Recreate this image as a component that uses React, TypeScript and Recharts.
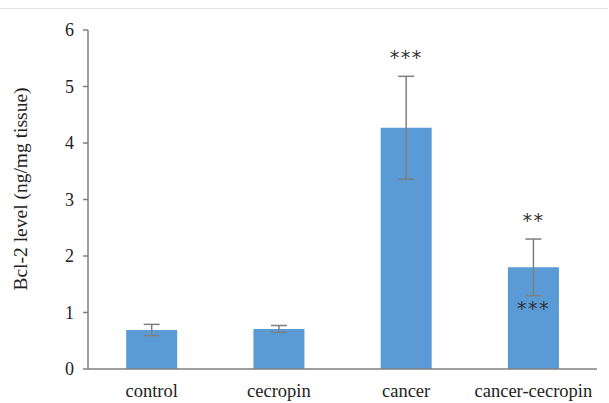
import { Bar, BarChart, ErrorBar, LabelList, XAxis, YAxis } from "recharts";

const groups = ["control", "cecropin", "cancer", "cancer-cecropin"];
const levels = [0.69, 0.71, 4.27, 1.8];
const errors = [0.1, 0.06, 0.91, 0.5];
const marksAbove = ["", "", "***", "**"];
const marksInside = ["", "", "", "***"];
const yTicks = [0, 1, 2, 3, 4, 5, 6];

const data = groups.map((g, i) => ({
  group: g,
  level: levels[i],
  err: errors[i],
  above: marksAbove[i],
  inside: marksInside[i],
}));

const axisColor = "#7f7f7f";
const serif = "Liberation Serif";

function Stars(props: any) {
  const { x, y, width, height, index } = props;
  const d = data[index];
  if (!d) return null;
  const perUnit = height / d.level;
  const cx = x + width / 2;
  const starStyle = { fontFamily: "DejaVu Sans", fontSize: 19, letterSpacing: 1.5 };
  return (
    <g>
      {d.above && (
        <text x={cx} y={y - d.err * perUnit - 22 + 10} textAnchor="middle" fill="#333" style={starStyle}>
          {d.above}
        </text>
      )}
      {d.inside && (
        <text x={cx} y={y + 38 + 10} textAnchor="middle" fill="#333" style={starStyle}>
          {d.inside}
        </text>
      )}
    </g>
  );
}

export default function App() {
  return (
    <div
      style={{
        position: "absolute",
        left: 0,
        top: 0,
        width: 609,
        height: 403,
        background: "#fff",
        fontFamily: serif,
      }}
    >
      <div style={{ position: "absolute", left: 0, top: 8, width: 608, borderTop: "1px solid #e2e2e2" }} />
      <BarChart
        width={609}
        height={403}
        data={data}
        margin={{ top: 30, right: 12, left: 0, bottom: 0 }}
        barCategoryGap="30%"
        style={{ fontFamily: serif }}
      >
        <XAxis
          dataKey="group"
          height={34}
          stroke={axisColor}
          strokeWidth={1.5}
          tickLine={false}
          tickSize={0}
          tickMargin={15}
          tick={{ fill: "#222", fontSize: 18.5, style: { fontFamily: serif } }}
        />
        <YAxis
          width={88}
          domain={[0, 6]}
          ticks={yTicks}
          stroke={axisColor}
          strokeWidth={1.5}
          tickSize={5}
          tickMargin={9}
          tick={{ fill: "#222", fontSize: 18, style: { fontFamily: serif } }}
          label={{
            content: () => (
              <text
                x={20}
                y={189}
                transform="rotate(-90 20 189)"
                textAnchor="middle"
                dominantBaseline="central"
                fill="#222"
                style={{ fontFamily: serif, fontSize: 19.5 }}
              >
                Bcl-2 level (ng/mg tissue)
              </text>
            ),
          }}
        />
        <Bar dataKey="level" fill="#5b9bd5" isAnimationActive={false}>
          <ErrorBar dataKey="err" width={8} stroke="#7f7f7f" strokeWidth={1.5} />
          <LabelList dataKey="above" content={Stars} />
        </Bar>
      </BarChart>
    </div>
  );
}
